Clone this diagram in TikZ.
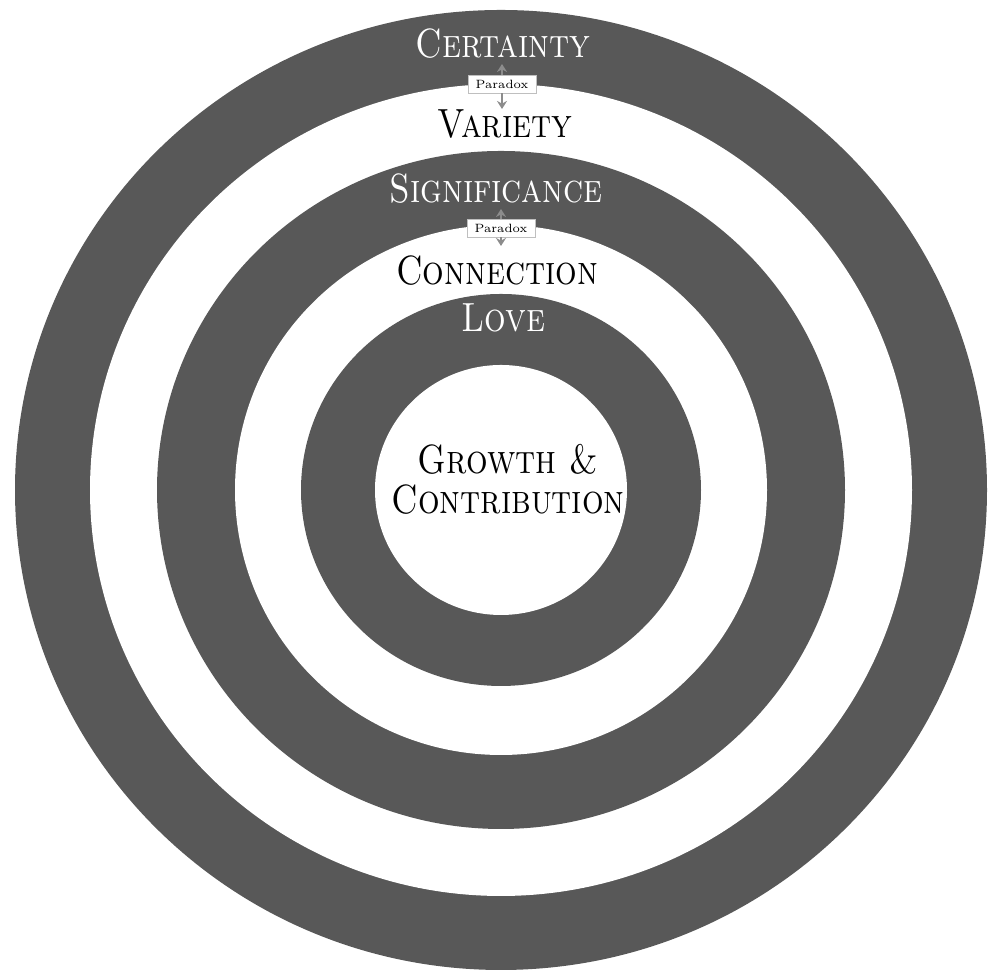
\documentclass[tikz,border=0pt]{standalone}
\usetikzlibrary{arrows.meta}

\definecolor{ringgray}{RGB}{88,88,88}
\newcommand{\tall}[1]{\scalebox{1}[1.2]{#1}}

\tikzset{
  ring/.style={fill=ringgray},
  hole/.style={fill=white},
  need/.style={font=\fontsize{17}{20}\selectfont\scshape, inner sep=0pt},
  needdark/.style={need, text=white},
  needlight/.style={need, text=black},
  paradox/.style={draw=black!25, fill=white, font=\fontsize{6}{6}\selectfont,
    minimum width=34pt, minimum height=9pt, inner sep=0pt},
  pdxtip/.style={draw=black!45, line width=1.2pt, -{Stealth[length=4pt,width=5pt]}}
}

\begin{document}
\begin{tikzpicture}[x=0.5pt, y=0.5pt]
  \useasboundingbox (0,0) rectangle (992,972);
  \coordinate (c) at (501,482);
  % rings, from the outside in
  \fill[ring] (c) ellipse [x radius=486, y radius=480];
  \fill[hole] (c) ellipse [x radius=411, y radius=406];
  \fill[ring] (c) ellipse [x radius=344, y radius=339];
  \fill[hole] (c) ellipse [x radius=266, y radius=265];
  \fill[ring] (c) ellipse [x radius=200, y radius=196];
  \fill[hole] (c) ellipse [x radius=126, y radius=125];
  % the needs
  \node[needdark]  (certainty)    at (503,928) {\tall{Certainty}};
  \node[needlight] (variety)      at (505,848) {\tall{Variety}};
  \node[needdark]  (significance) at (496,783) {\tall{Significance}};
  \node[needlight] (connection)   at (497,701) {\tall{Connection}};
  \node[needdark]  (love)         at (503,654) {\tall{Love}};
  \node[needlight, align=center] (growth) at (508,493)
    {\tall{Growth \&}\\\tall{Contribution}};
  % paradox between the pairs
  \node[paradox] (pdxa) at (502,888) {Paradox};
  \node[paradox] (pdxb) at (501,744) {Paradox};
  \coordinate (pdxa up)   at (502,908);
  \coordinate (pdxa down) at (502,863);
  \coordinate (pdxb up)   at (501,763);
  \coordinate (pdxb down) at (501,726);
  \draw[pdxtip] (pdxa.north) -- (pdxa up);
  \draw[pdxtip] (pdxa.south) -- (pdxa down);
  \draw[pdxtip] (pdxb.north) -- (pdxb up);
  \draw[pdxtip] (pdxb.south) -- (pdxb down);
\end{tikzpicture}
\end{document}
